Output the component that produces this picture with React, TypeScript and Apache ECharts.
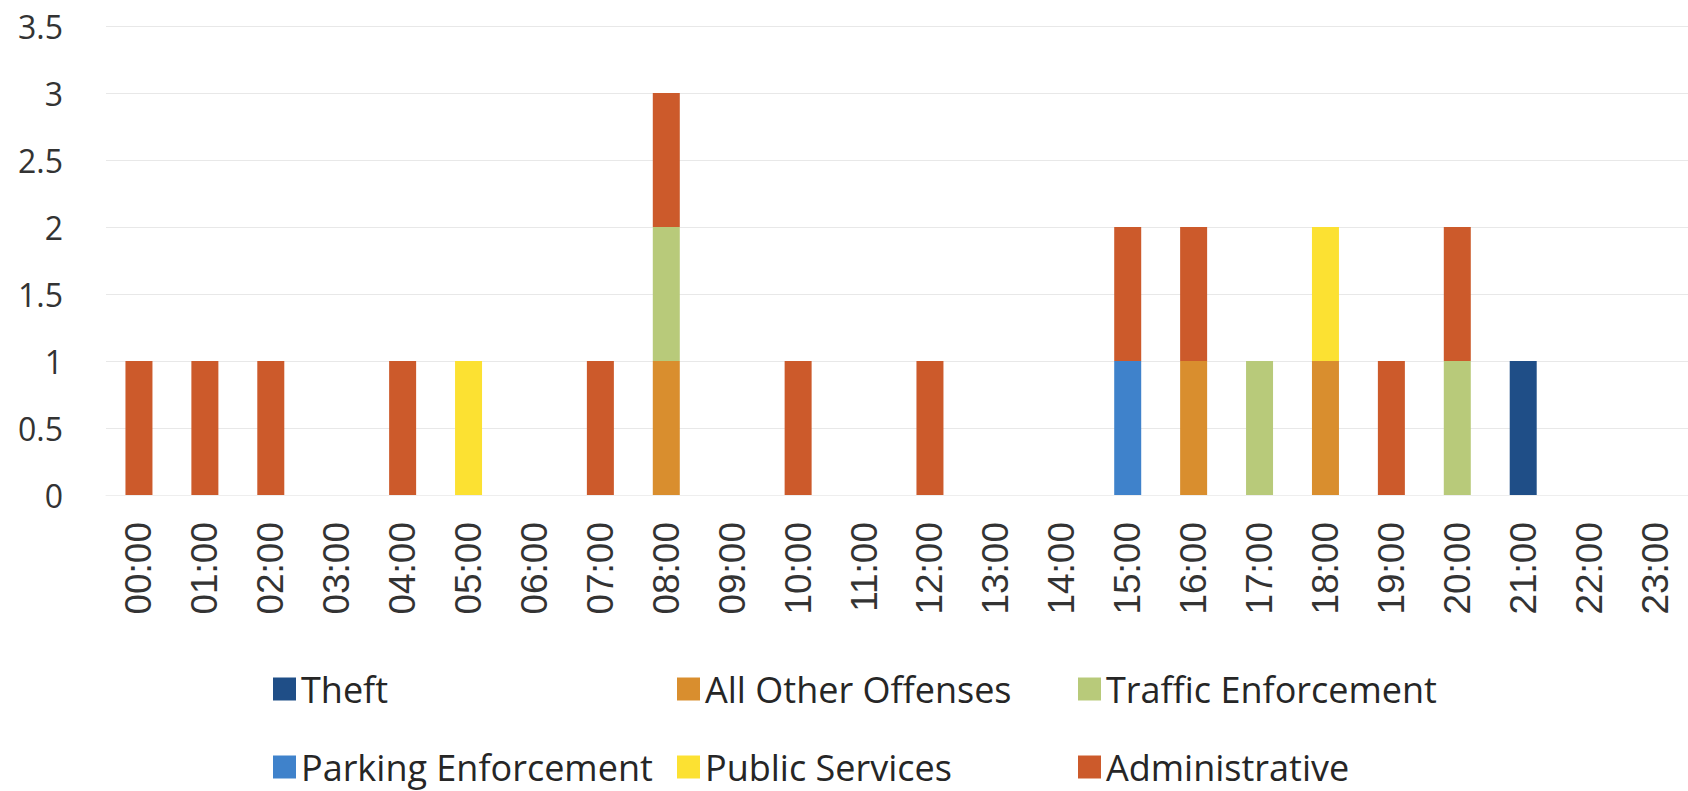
import React, { useEffect, useRef } from "react";
import * as echarts from "echarts";

const hours = [
  "00:00", "01:00", "02:00", "03:00", "04:00", "05:00", "06:00", "07:00",
  "08:00", "09:00", "10:00", "11:00", "12:00", "13:00", "14:00", "15:00",
  "16:00", "17:00", "18:00", "19:00", "20:00", "21:00", "22:00", "23:00",
];

const theft = [0, 0, 0, 0, 0, 0, 0, 0, 0, 0, 0, 0, 0, 0, 0, 0, 0, 0, 0, 0, 0, 1, 0, 0];
const allOtherOffenses = [0, 0, 0, 0, 0, 0, 0, 0, 1, 0, 0, 0, 0, 0, 0, 0, 1, 0, 1, 0, 0, 0, 0, 0];
const trafficEnforcement = [0, 0, 0, 0, 0, 0, 0, 0, 1, 0, 0, 0, 0, 0, 0, 0, 0, 1, 0, 0, 1, 0, 0, 0];
const parkingEnforcement = [0, 0, 0, 0, 0, 0, 0, 0, 0, 0, 0, 0, 0, 0, 0, 1, 0, 0, 0, 0, 0, 0, 0, 0];
const publicServices = [0, 0, 0, 0, 0, 1, 0, 0, 0, 0, 0, 0, 0, 0, 0, 0, 0, 0, 1, 0, 0, 0, 0, 0];
const administrative = [1, 1, 1, 0, 1, 0, 0, 1, 1, 0, 1, 0, 1, 0, 0, 1, 1, 0, 0, 1, 1, 0, 0, 0];

const seriesNames = [
  "Theft",
  "All Other Offenses",
  "Traffic Enforcement",
  "Parking Enforcement",
  "Public Services",
  "Administrative",
];
const seriesData = [theft, allOtherOffenses, trafficEnforcement, parkingEnforcement, publicServices, administrative];
const seriesColors = ["#1F4E87", "#D98E2E", "#B8CA7A", "#3F82CB", "#FCE132", "#CC5A2B"];

// legend grid placement (3 columns x 2 rows, filled row by row)
const legendLefts = [273, 677, 1078];
const legendTops = [671, 749];

export default function App() {
  const ref = useRef<HTMLDivElement>(null);

  useEffect(() => {
    document.body.style.margin = "0";
    if (!ref.current) return;
    const chart = echarts.init(ref.current, undefined, { renderer: "svg" });
    const legendText = {
      fontFamily: "'Open Sans', sans-serif",
      fontSize: 36,
      color: "#262626",
      lineHeight: 36,
    };
    chart.setOption({
      animation: false,
      backgroundColor: "#ffffff",
      grid: { left: 106, width: 1584, top: 26, bottom: 296, containLabel: false },
      legend: seriesNames.map((name, i) => ({
        orient: "horizontal",
        left: legendLefts[i % 3],
        top: legendTops[Math.floor(i / 3)],
        padding: 0,
        itemWidth: 23,
        itemHeight: 23,
        icon: "rect",
        textStyle: legendText,
        data: [name],
      })),
      xAxis: {
        type: "category",
        data: hours,
        axisLine: { show: true, lineStyle: { color: "#eeeeee" } },
        axisTick: { show: false },
        axisLabel: {
          rotate: 90,
          margin: 27,
          interval: 0,
          fontFamily: "'Liberation Sans', Arial, sans-serif",
          fontSize: 37,
          color: "#333333",
        },
      },
      yAxis: {
        type: "value",
        min: 0,
        max: 3.5,
        interval: 0.5,
        axisLine: { show: false },
        axisTick: { show: false },
        splitLine: { show: true, lineStyle: { color: "#e8e8e8", width: 1 } },
        axisLabel: {
          margin: 43,
          fontFamily: "'Open Sans', sans-serif",
          fontSize: 32,
          color: "#333333",
        },
      },
      series: seriesNames.map((name, i) => ({
        name,
        type: "bar",
        stack: "total",
        barWidth: 27,
        data: seriesData[i].map((v) => (v === 0 ? null : v)),
        itemStyle: { color: seriesColors[i] },
      })),
    });
    return () => chart.dispose();
  }, []);

  return <div ref={ref} style={{ width: 1688, height: 791 }} />;
}
